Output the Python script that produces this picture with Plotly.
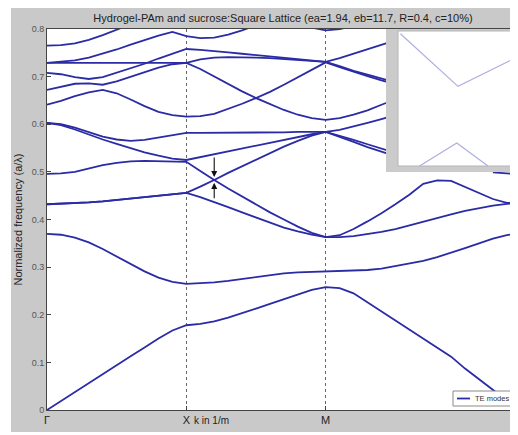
import plotly.graph_objects as go

# ---------------- data ----------------
# path coordinate along Γ-X-M-Γ
K = [0.0, 0.1, 0.2, 0.3, 0.4, 0.5, 0.6, 0.7, 0.8, 0.9, 1.0,
     1.1, 1.2, 1.3, 1.4, 1.5, 1.6, 1.7, 1.8, 1.9, 2.0,
     2.1, 2.2, 2.3, 2.4, 2.5, 2.6, 2.7, 2.8, 2.9, 3.0, 3.1, 3.2, 3.3, 3.38]

X_TICK_POS = [0.0, 1.0, 2.0, 3.38]
X_TICK_TEXT = ["Γ", "X", "M", "Γ"]
Y_TICK_POS = [0, 0.1, 0.2, 0.3, 0.4, 0.5, 0.6, 0.7, 0.8]
Y_TICK_TEXT = ["0", "0.1", "0.2", "0.3", "0.4", "0.5", "0.6", "0.7", "0.8"]

N = None
band1 = [0.0, 0.019, 0.038, 0.057, 0.076, 0.095, 0.113, 0.131, 0.15, 0.167, 0.178,
         0.181, 0.186, 0.194, 0.203, 0.213, 0.223, 0.233, 0.243, 0.252, 0.258,
         0.256, 0.245, 0.226, 0.207, 0.188, 0.17, 0.151, 0.132, 0.112, 0.087, 0.065, 0.043, 0.02, 0.0]
band2 = [0.37, 0.368, 0.362, 0.352, 0.338, 0.322, 0.306, 0.291, 0.278, 0.269, 0.265,
         0.266, 0.268, 0.271, 0.275, 0.279, 0.283, 0.287, 0.289, 0.29, 0.291,
         0.291, 0.292, 0.294, 0.297, 0.302, 0.307, 0.313, 0.321, 0.33, 0.34, 0.35, 0.36, 0.367, 0.371]
band3 = [0.432, 0.433, 0.434, 0.436, 0.438, 0.441, 0.444, 0.447, 0.45, 0.453, 0.456,
         0.447, 0.437, 0.426, 0.415, 0.404, 0.393, 0.383, 0.375, 0.368, 0.363,
         0.363, 0.365, 0.369, 0.374, 0.38, 0.388, 0.396, 0.404, 0.411, 0.418, 0.424, 0.429, 0.433, 0.434]
band4 = [0.432, 0.433, 0.434, 0.436, 0.438, 0.441, 0.444, 0.447, 0.45, 0.453, 0.456,
         0.469, 0.483, 0.465, 0.448, 0.431, 0.415, 0.4, 0.385, 0.372, 0.363,
         0.367, 0.38, 0.396, 0.413, 0.432, 0.452, 0.475, 0.482, 0.481, 0.468, 0.455, 0.443, 0.435, 0.434]
band5 = [0.496, 0.497, 0.5, 0.507, 0.514, 0.519, 0.522, 0.523, 0.522, 0.521, 0.521,
         0.502, 0.483, 0.498, 0.512, 0.526, 0.54, 0.553, 0.565, 0.576, 0.584,
         0.574, 0.563, 0.552, 0.543, 0.533, N, N, N, N, N, N, 0.499, 0.497, 0.495]
band6 = [0.603, 0.598, 0.589, 0.578, 0.568, 0.559, 0.55, 0.541, 0.534, 0.528, 0.525,
         0.531, 0.537, 0.543, 0.55, 0.556, 0.562, 0.568, 0.574, 0.579, 0.584,
         0.576, 0.567, 0.558, 0.549, 0.54, N, N, N, N, N, N, N, N, N]
band7 = [0.603, 0.6, 0.593, 0.583, 0.574, 0.568, 0.565, 0.567, 0.572, 0.577, 0.582,
         0.582, 0.582, 0.582, 0.583, 0.583, 0.583, 0.583, 0.584, 0.584, 0.584,
         0.588, 0.595, 0.603, 0.611, 0.619, N, N, N, N, N, N, N, N, N]
band8 = [0.641, 0.649, 0.659, 0.667, 0.672, 0.665, 0.652, 0.638, 0.626, 0.619, 0.616,
         0.617, 0.622, 0.632, 0.643, 0.655, 0.642, 0.63, 0.62, 0.613, 0.609,
         0.613, 0.62, 0.629, 0.641, 0.652, N, N, N, N, N, N, N, N, N]
band9 = [0.672, 0.679, 0.685, 0.686, 0.683, 0.69, 0.7, 0.71, 0.719, 0.726, 0.729,
         0.716, 0.7, 0.684, 0.669, 0.655, 0.668, 0.683, 0.699, 0.715, 0.73,
         0.72, 0.71, 0.701, 0.692, 0.684, N, N, N, N, N, N, N, N, N]
band10 = [0.708, 0.705, 0.699, 0.695, 0.699, 0.708, 0.717, 0.727, 0.738, 0.748, 0.758,
          0.756, 0.754, 0.751, 0.748, 0.745, 0.742, 0.739, 0.736, 0.733, 0.731,
          0.722, 0.712, 0.704, 0.696, 0.688, N, N, N, N, N, N, N, N, N]
band11 = [0.729, 0.729, 0.729, 0.729, 0.729, 0.729, 0.729, 0.729, 0.729, 0.729, 0.729,
          0.736, 0.74, 0.741, 0.741, 0.74, 0.739, 0.737, 0.735, 0.733, 0.731,
          0.739, 0.748, 0.757, 0.767, 0.776, N, N, N, N, N, N, N, N, N]
band12 = [0.729, 0.731, 0.734, 0.74, 0.748, 0.757, 0.767, 0.777, 0.786, 0.794, 0.785,
          0.781, 0.782, 0.788, 0.797, 0.808, N, N, N, N, N,
          N, N, N, N, N, N, N, N, N, N, N, N, N, N]
band13 = [0.765, 0.766, 0.77, 0.777, 0.787, 0.798, 0.81, N, N, N, N,
          N, N, N, N, N, N, N, N, N, N,
          N, N, N, N, N, N, N, N, N, N, N, N, N, N]
band14 = [N, N, N, N, N, N, N, N, N, N, N,
          N, N, N, N, N, N, N, N, 0.803, 0.797,
          0.8, 0.806, N, N, N, N, N, N, N, N, N, N, N, N]

BANDS = [band1, band2, band3, band4, band5, band6, band7, band8,
         band9, band10, band11, band12, band13, band14]
LEGEND_LABEL = "TE modes"

# inset (zoom of the gap) values
INSET_UP_X = [0.02, 0.5, 1.0]
INSET_UP_Y = [0.98, 0.59, 0.81]
INSET_LO_X = [0.18, 0.49, 0.75]
INSET_LO_Y = [0.0, 0.17, 0.0]

# arrow positions marking the gap
ARROW_K = 1.2
ARROW_TOP_F = 0.489
ARROW_BOT_F = 0.477

# ---------------- figure ----------------
LINE = "#2b2ba6"
fig = go.Figure()
for i, b in enumerate(BANDS):
    fig.add_trace(go.Scatter(
        x=K, y=b, mode="lines", name=LEGEND_LABEL,
        line=dict(color=LINE, width=1.8),
        showlegend=False, hoverinfo="skip"))

for xs, ys in [(INSET_UP_X, INSET_UP_Y), (INSET_LO_X, INSET_LO_Y)]:
    fig.add_trace(go.Scatter(
        x=xs, y=ys, xaxis="x2", yaxis="y2", mode="lines",
        line=dict(color="#aeaedf", width=1.2), showlegend=False, hoverinfo="skip"))

# the page body has an 8px margin: the figure starts at page pixel (8, 8)
OFF = 8
W, H = 510, 427
L, R, T, B = 39, 0, 21, 25
PW, PH = W - L - R, H - T - B


def px_x(page_px):
    return (page_px - OFF - L) / PW


def px_y(page_py):
    return (H - B - (page_py - OFF)) / PH


shapes = [
    # inset frame (grey) and inset plot area (white)
    dict(type="rect", xref="x2", yref="y2", x0=-0.1, x1=1.0, y0=-0.0444, y1=1.0148,
         fillcolor="#cbcbcb", line=dict(width=0), layer="below"),
    dict(type="rect", xref="x2", yref="y2", x0=0, x1=1, y0=0, y1=1,
         fillcolor="white", line=dict(color="#b5b5b5", width=1), layer="below"),
    # white page border around the grey figure
    dict(type="rect", xref="paper", yref="paper", x0=px_x(8), x1=px_x(11), y0=px_y(435), y1=px_y(8),
         fillcolor="white", line=dict(width=0), layer="above"),
    dict(type="rect", xref="paper", yref="paper", x0=px_x(8), x1=px_x(518), y0=px_y(435), y1=px_y(432),
         fillcolor="white", line=dict(width=0), layer="above"),
    # legend box and its line sample
    dict(type="rect", xref="paper", yref="paper", x0=px_x(453), x1=px_x(517), y0=px_y(406), y1=px_y(391),
         fillcolor="white", line=dict(color="#8a8a8a", width=1), layer="above"),
    dict(type="line", xref="paper", yref="paper", x0=px_x(457), x1=px_x(470), y0=px_y(398.5), y1=px_y(398.5),
         line=dict(color=LINE, width=1.8), layer="above"),
]

annotations = [
    dict(x=px_x(211), y=px_y(420), xref="paper", yref="paper", text="k in 1/m",
         showarrow=False, font=dict(size=10, color="#222"), xanchor="center", yanchor="middle"),
    dict(x=px_x(473), y=px_y(398.5), xref="paper", yref="paper", text=LEGEND_LABEL,
         showarrow=False, font=dict(size=7.5, color="#333"), xanchor="left", yanchor="middle"),
    dict(x=ARROW_K, y=ARROW_TOP_F, xref="x", yref="y", text="", showarrow=True,
         ax=0, ay=-21, arrowhead=2, arrowsize=1.1, arrowwidth=1.1, arrowcolor="#111"),
    dict(x=ARROW_K, y=ARROW_BOT_F, xref="x", yref="y", text="", showarrow=True,
         ax=0, ay=17, arrowhead=2, arrowsize=1.1, arrowwidth=1.1, arrowcolor="#111"),
]

fig.update_layout(
    width=W, height=H,
    margin=dict(l=L, r=R, t=T, b=B, autoexpand=False),
    paper_bgcolor="#c9c9c9", plot_bgcolor="white",
    font=dict(family="Liberation Sans, Arial, sans-serif", color="#222"),
    title=dict(text="Hydrogel-PAm and sucrose:Square Lattice (ea=1.94, eb=11.7, R=0.4, c=10%)",
               x=(283 - OFF) / W, xanchor="center", y=1 - (18 - OFF) / H, yanchor="middle",
               font=dict(size=11, color="#222")),
    xaxis=dict(domain=[0, 1], range=[0, 3.38], tickmode="array", automargin=False,
               tickvals=X_TICK_POS, ticktext=X_TICK_TEXT,
               showgrid=True, gridcolor="#666", griddash="dot", gridwidth=1,
               showline=True, linecolor="#444", linewidth=1, mirror=True,
               ticks="inside", ticklen=4, tickcolor="#444", zeroline=False,
               tickfont=dict(size=11, color="#222")),
    yaxis=dict(domain=[0, 1], range=[0, 0.8], tickmode="array", automargin=False,
               tickvals=Y_TICK_POS, ticktext=Y_TICK_TEXT,
               showgrid=False, zeroline=False,
               showline=True, linecolor="#444", linewidth=1, mirror=False,
               ticks="inside", ticklen=4, tickcolor="#444",
               tickfont=dict(size=9, color="#555"),
               title=dict(text="Normalized frequency (a/λ)", standoff=6,
                          font=dict(size=11, color="#222"))),
    xaxis2=dict(domain=[px_x(386), 1.0], anchor="y2", range=[-0.1, 1.0], automargin=False,
                showgrid=False, zeroline=False, showticklabels=False, showline=False, ticks=""),
    yaxis2=dict(domain=[px_y(172), 1.0], anchor="x2", range=[-0.0444, 1.0148], automargin=False,
                showgrid=False, zeroline=False, showticklabels=False, showline=False, ticks=""),
    shapes=shapes,
    annotations=annotations,
    showlegend=False,
)

fig.write_html("out.html")
